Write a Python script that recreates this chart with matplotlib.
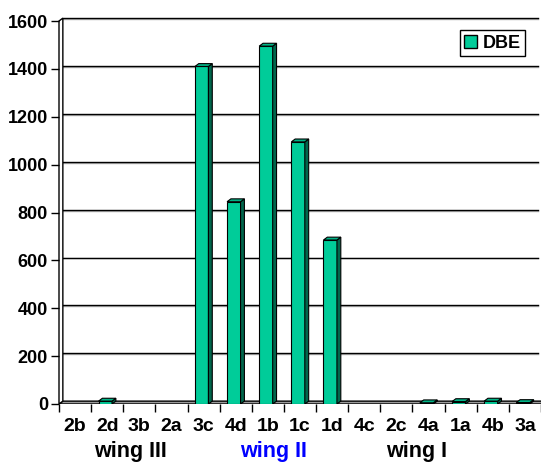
import numpy as np
import matplotlib
matplotlib.use("Agg")
import matplotlib.pyplot as plt
from matplotlib.patches import Polygon, Patch

plt.rcParams["font.family"] = ["Liberation Sans", "DejaVu Sans"]
plt.rcParams["font.weight"] = "bold"

categories = ["2b", "2d", "3b", "2a", "3c", "4d", "1b", "1c", "1d",
              "4c", "2c", "4a", "1a", "4b", "3a"]
dbe = [0, 12, 0, 0, 1410, 845, 1495, 1095, 685, 0, 0, 5, 10, 12, 6]
yticks = [0, 200, 400, 600, 800, 1000, 1200, 1400, 1600]
groups = ["wing III", "wing II", "wing I"]
group_colors = ["black", "#0000ff", "black"]

FRONT = "#00cc99"
SIDE = "#00664c"
TOP = "#00b386"

W, H = 541, 463
fig = plt.figure(figsize=(W / 100, H / 100), dpi=100)
ax = fig.add_axes([59 / W, (H - 404) / H, (541 - 59) / W, (404 - 21) / H])

x = np.arange(len(categories))
xmin, xmax = -0.5, 14.4
ymax = yticks[-1]
dx, dy = 0.12, 12      # depth of the 3d look, in data units
bw, off = 0.42, -0.06  # bar front width and shift from the category centre

# floor and left wall
ax.add_patch(Polygon([(xmin, 0), (xmax + 1, 0), (xmax + 1 + dx, dy), (xmin + dx, dy)],
                     closed=True, facecolor="#9a9a9a", edgecolor="black", lw=1, zorder=1))
ax.add_patch(Polygon([(xmin, 0), (xmin, ymax), (xmin + dx, ymax + dy), (xmin + dx, dy)],
                     closed=True, facecolor="white", edgecolor="black", lw=1,
                     zorder=1, clip_on=False))

# gridlines on the back wall
for v in yticks[1:]:
    ax.plot([xmin + dx, xmax], [v + dy - 4, v + dy - 4], color="#b0b0b0", lw=1,
            zorder=0.5, clip_on=False)
    ax.plot([xmin + dx, xmax], [v + dy, v + dy], color="black", lw=1,
            zorder=0.6, clip_on=False)

# bars: front face + side + top
for xi, v in zip(x, dbe):
    if v <= 0:
        continue
    left = xi + off - bw / 2
    right = xi + off + bw / 2
    ax.bar(left, v, width=bw, align="edge", color=FRONT, edgecolor="black",
           lw=0.8, zorder=3)
    ax.add_patch(Polygon([(right, 0), (right + dx, dy), (right + dx, v + dy), (right, v)],
                         closed=True, facecolor=SIDE, edgecolor="black", lw=0.8, zorder=3))
    ax.add_patch(Polygon([(left, v), (right, v), (right + dx, v + dy), (left + dx, v + dy)],
                         closed=True, facecolor=TOP, edgecolor="black", lw=0.8, zorder=3))

ax.set_xlim(xmin, xmax)
ax.set_ylim(0, ymax)
for s in ax.spines.values():
    s.set_visible(False)

ax.set_yticks(yticks)
ax.set_yticklabels([str(v) for v in yticks], fontsize=13, fontweight="bold")
ax.tick_params(axis="y", length=6, width=1, pad=2)

ax.set_xticks(x)
ax.set_xticklabels(categories, fontsize=14, fontweight="bold")
ax.set_xticks(np.arange(len(categories) + 1) - 0.5, minor=True)
ax.tick_params(axis="x", which="major", length=0, pad=10)
ax.tick_params(axis="x", which="minor", length=6, width=1)

# legend
fig.legend(handles=[Patch(facecolor=FRONT, edgecolor="black", label="DBE")],
           loc="upper right", bbox_to_anchor=(525 / W, 1 - 30 / H),
           frameon=True, fancybox=False, edgecolor="black", framealpha=1,
           prop={"weight": "bold", "size": 13}, handlelength=0.7, handleheight=0.7,
           handletextpad=0.3, borderpad=0.25, borderaxespad=0)

# wing labels under the categories
for label, cx, col in zip(groups, [130, 274, 417], group_colors):
    fig.text(cx / W, 1 - 451 / H, label, ha="center", va="center",
             fontsize=15.5, fontweight="bold", color=col)

fig.savefig("out.png", dpi=100)
